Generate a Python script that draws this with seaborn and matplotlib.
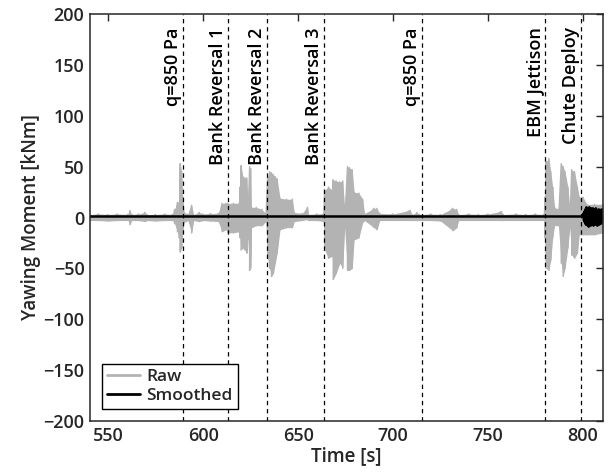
import numpy as np
import pandas as pd
import matplotlib
matplotlib.use("Agg")
import matplotlib.pyplot as plt
import seaborn as sns

# Raw yawing moment: upper / lower extent of the oscillating signal [kNm]
raw_t = [540.5, 545, 550, 555, 560.5, 561.5, 562.5, 566, 569.5, 570.5, 575, 580,
         584, 585, 586.5, 587.5, 588, 588.7, 589.3, 590, 592, 594, 595, 598, 600,
         604, 608, 610, 612, 613, 616, 619, 619.5, 620, 621, 622, 623, 623.5,
         624.5, 625, 625.5, 628, 631, 633, 634, 635, 636, 637, 638, 639, 640.5,
         644, 647, 648, 652, 655, 655.5, 660, 663.5, 664, 666, 668, 668.5, 670,
         672, 673.5, 674.5, 676, 677, 678.5, 679.5, 682, 684, 685, 690, 691.5,
         693, 700, 709, 710, 712.6, 714, 720, 725, 731.5, 733.5, 734.5, 740, 745,
         750, 757, 758, 765, 770, 775, 779.5, 780, 780.5, 782, 783, 784, 785, 787,
         788.5, 789.5, 790.5, 792, 793, 794, 795.5, 797, 798, 800, 802, 806, 810.5]
raw_hi = [3, 3.5, 3, 3.5, 3, 7, 3, 3.5, 5, 3, 3, 3.5,
          3, 8, 15, 15, 53, 45, 20, 5, 3.5, 12, 3, 5, 3.5,
          4, 4, 14, 14, 14, 14, 14, 30, 51, 40, 39, 39, 20,
          50, 48, 10, 10, 8, 4, 40, 45, 44, 42, 40, 38, 19,
          18, 18, 5, 4, 10, 3, 3.5, 4, 27, 30, 27, 37, 36,
          35, 36, 10, 50, 49, 47, 25, 24, 18, 4, 9, 9,
          4, 3.5, 7, 3, 5, 3, 3.5, 3, 9, 8, 3, 3.5, 3,
          3.5, 6, 3, 3.5, 3, 3.5, 3, 20, 55, 58, 45, 30, 10, 8,
          53, 50, 45, 30, 10, 47, 45, 30, 20, 20, 13, 13, 13]
raw_lo = [-3, -3, -3.5, -3, -3, -7, -3, -3, -4, -3, -3.5, -3,
          -3, -6, -14, -20, -34, -30, -12, -5, -3, -15, -3, -4, -3,
          -3.5, -4, -14, -12, -15, -15, -14, -20, -32, -30, -32, -35, -20,
          -52, -50, -10, -8, -8, -4, -40, -50, -58, -55, -45, -35, -12,
          -10, -10, -4, -3, -2, -3, -3, -4, -32, -40, -38, -61, -55,
          -45, -50, -10, -52, -52, -50, -22, -20, -5, -3, -10, -12,
          -3, -3, -3, -3, -3, -3, -3, -3.5, -13, -10, -3, -3, -3,
          -3, -3, -3, -3, -3, -3, -3, -20, -50, -52, -42, -20, -8, -8,
          -45, -58, -50, -30, -10, -37, -40, -35, -17, -17, -17, -17, -15]

# Smoothed yawing moment [kNm]
smooth_t = [540.5, 580, 620, 660, 700, 740, 780, 799.5] + list(np.arange(800, 810.51, 0.25))
smooth_v = [1, 1, 1, 1, 1, 1, 1, 1,
            1, 4, -3, 6, -5, 8, -7, 10, -6, 9, -8, 7, -9, 10, -5, 8, -8, 9,
            -6, 5, -7, 9, -8, 6, -4, 8, -7, 9, -5, 6, -8, 7, -4, 8, -7, 6,
            -5, 7, -6, 8, -4, 6, -3]

# Flight events
event_t = [589.5, 613, 633.7, 663.7, 715, 780, 799]
event_lbl = ["q=850 Pa", "Bank Reversal 1", "Bank Reversal 2", "Bank Reversal 3",
             "q=850 Pa", "EBM Jettison", "Chute Deploy"]

x_ticks = [550, 600, 650, 700, 750, 800]
y_ticks = [-200, -150, -100, -50, 0, 50, 100, 150, 200]

sns.set_theme(style="white")
plt.rcParams["font.family"] = ["Open Sans", "DejaVu Sans"]
plt.rcParams["font.weight"] = "semibold"
plt.rcParams["axes.labelweight"] = "semibold"
dark = "#262626"

fig = plt.figure(figsize=(6.09, 4.76), dpi=100)
ax = fig.add_axes([0.1478, 0.1155, 0.8424, 0.8551])

# raw trace: alternate between the upper and lower extent at each time
rt = np.repeat(raw_t, 2)
rv = np.ravel(np.column_stack([raw_hi, raw_lo]))
raw_df = pd.DataFrame({"t": rt, "v": rv})
ax.fill_between(raw_t, raw_lo, raw_hi, color="#b3b3b3", lw=0)
sns.lineplot(data=raw_df, x="t", y="v", ax=ax, sort=False, estimator=None,
             color="#b3b3b3", lw=1, label="Raw")

sm_df = pd.DataFrame({"t": smooth_t, "v": smooth_v})
sns.lineplot(data=sm_df, x="t", y="v", ax=ax, sort=False, estimator=None,
             color="black", lw=1.8, label="Smoothed")

for t, lbl in zip(event_t, event_lbl):
    ax.axvline(t, color="black", lw=0.9, ls=(0, (3.5, 3)))
    ax.text(t - 0.5, 187, lbl, rotation=90, ha="right", va="top",
            fontsize=13, fontweight="semibold", color="black")

ax.set_xlim(540.5, 810.5)
ax.set_ylim(-200, 200)
ax.set_xticks(x_ticks)
ax.set_yticks(y_ticks)
ax.set_xlabel("Time [s]", fontsize=13.5, color=dark, labelpad=1)
ax.set_ylabel("Yawing Moment [kNm]", fontsize=13.5, color=dark, labelpad=2)
ax.tick_params(direction="in", length=5, width=1, top=True, right=True,
               labelsize=13, colors=dark, pad=4)
for s in ax.spines.values():
    s.set_color(dark)
    s.set_linewidth(1.1)

leg = ax.legend(loc="lower left", bbox_to_anchor=(0.023, 0.029), borderaxespad=0,
                fontsize=12.5, frameon=True, fancybox=False, framealpha=1,
                handlelength=1.9, handletextpad=0.35, labelspacing=0.15,
                borderpad=0.3)
leg.get_frame().set_edgecolor("black")
leg.get_frame().set_linewidth(1)
for line in leg.get_lines():
    line.set_linewidth(2)

fig.savefig("out.png", dpi=100)
